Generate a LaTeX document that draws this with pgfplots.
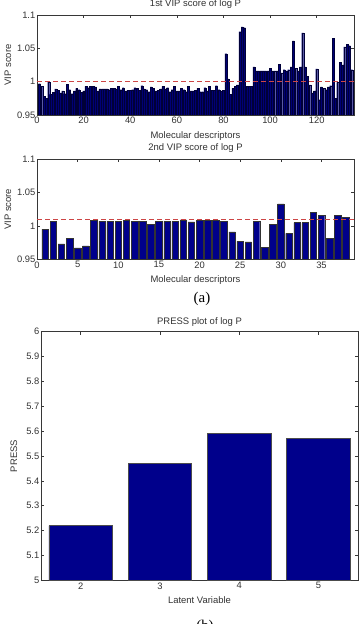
\documentclass[border=0pt]{standalone}
\usepackage{fontspec}
\setmainfont{Liberation Sans}
\newfontfamily\capfont{Liberation Serif}
\usepackage{pgfplots}
\usepackage{pgfplotstable}
\pgfplotsset{compat=1.18}

\definecolor{barblue}{RGB}{0,0,139}
\definecolor{refred}{RGB}{205,70,70}
\definecolor{axisgray}{RGB}{55,55,55}

% VIP scores of the first component (135 descriptors)
\pgfplotstableread{
idx vip
1 0.997
2 0.993
3 0.978
4 0.975
5 1.000
6 0.981
7 0.984
8 0.989
9 0.987
10 0.983
11 0.986
12 0.982
13 0.996
14 0.988
15 0.982
16 0.986
17 0.990
18 0.988
19 0.984
20 0.986
21 0.993
22 0.991
23 0.993
24 0.993
25 0.992
26 0.986
27 0.989
28 0.989
29 0.989
30 0.989
31 0.988
32 0.990
33 0.990
34 0.989
35 0.993
36 0.988
37 0.991
38 0.986
39 0.987
40 0.987
41 0.988
42 0.991
43 0.990
44 0.987
45 0.994
46 0.989
47 0.988
48 0.985
49 0.992
50 0.990
51 0.986
52 0.987
53 0.989
54 0.993
55 0.989
56 0.991
57 0.985
58 0.988
59 0.993
60 0.986
61 0.986
62 0.990
63 0.988
64 0.985
65 0.993
66 0.986
67 0.986
68 0.987
69 0.990
70 0.985
71 0.985
72 0.991
73 0.986
74 0.993
75 0.987
76 0.987
77 0.994
78 0.988
79 0.986
80 0.987
81 1.042
82 1.004
83 0.981
84 0.990
85 0.993
86 0.995
87 1.075
88 1.082
89 1.081
90 0.993
91 0.993
92 0.993
93 1.022
94 1.016
95 1.016
96 1.016
97 1.016
98 1.016
99 1.016
100 1.020
101 1.016
102 1.016
103 1.016
104 1.026
105 1.013
106 1.018
107 1.016
108 1.018
109 1.022
110 1.061
111 1.020
112 1.016
113 1.022
114 1.073
115 1.022
116 1.008
117 0.995
118 0.983
119 0.986
120 1.019
121 0.973
122 0.992
123 0.990
124 0.988
125 0.992
126 0.994
127 1.065
128 0.975
129 0.999
130 1.029
131 1.025
132 1.052
133 1.056
134 1.054
135 1.018
}\vipfirst

% VIP scores of the second component (38 descriptors)
\pgfplotstableread{
idx vip
1 0.995
2 1.007
3 0.973
4 0.981
5 0.967
6 0.970
7 1.008
8 1.007
9 1.007
10 1.007
11 1.008
12 1.007
13 1.007
14 1.002
15 1.007
16 1.007
17 1.007
18 1.009
19 1.006
20 1.008
21 1.008
22 1.008
23 1.007
24 0.991
25 0.977
26 0.976
27 1.007
28 0.968
29 1.002
30 1.033
31 0.989
32 1.005
33 1.005
34 1.020
35 1.016
36 0.981
37 1.016
38 1.013
}\vipsecond

% PRESS against number of latent variables
\pgfplotstableread{
lv press
2 5.22
3 5.47
4 5.59
5 5.57
}\pressdata

\pgfplotsset{
  matlabaxis/.style={
    scale only axis,
    width=317bp,
    tick align=inside,
    tick pos=both,
    major tick length=3bp,
    axis line style={axisgray, line width=0.5bp},
    every tick/.style={axisgray, line width=0.5bp},
    /pgf/number format/assume math mode=true,
    tick label style={font=\fontsize{9.4}{10}\selectfont, text=black!80},
    yticklabel style={inner sep=1.5bp},
    xticklabel style={inner sep=2bp},
    label style={font=\fontsize{9.5}{10}\selectfont, text=black!80},
    every axis title/.style={font=\fontsize{9.5}{10}\selectfont, text=black!80, anchor=base},
    xlabel style={anchor=base},
    ylabel style={anchor=center},
  },
  vipaxis/.style={
    matlabaxis,
    height=100bp,
    ymin=0.95, ymax=1.1,
    ytick={0.95,1,1.05,1.1},
    yticklabels={0.95,1,1.05,1.1},
    xlabel={Molecular descriptors},
    ylabel={VIP score},
    xlabel style={at={(axis description cs:0.5,-0.235)}},
    ylabel style={at={(axis description cs:-0.0915,0.5)}},
  },
  vipbar/.style={ybar, bar width=0.85, fill=barblue!85!black, draw=black!60!barblue, line width=0.25bp},
  cutline/.style={refred, line width=1bp, dash pattern=on 5bp off 3bp},
}

\begin{document}
\begin{tikzpicture}
\useasboundingbox (0bp,0bp) rectangle (359bp,624bp);

% first component
\begin{axis}[vipaxis,
  at={(37bp,509bp)}, anchor=south west,
  xmin=0, xmax=136,
  xtick={0,20,...,120},
  title={1st VIP score of log P},
  title style={at={(axis description cs:0.5,1.08)}},
]
\addplot[vipbar] table[x=idx, y=vip] {\vipfirst};
\addplot[cutline] coordinates {(0,1) (136,1)};
\end{axis}

% second component
\begin{axis}[vipaxis,
  at={(37bp,364.7bp)}, anchor=south west,
  xmin=0, xmax=39,
  xtick={0,5,...,35},
  title={2nd VIP score of log P},
  title style={at={(axis description cs:0.5,1.083)}},
]
\addplot[vipbar, bar width=0.8, fill=barblue, draw=black!80, line width=0.4bp] table[x=idx, y=vip] {\vipsecond};
\addplot[cutline] coordinates {(0,1.01) (39,1.01)};
\end{axis}

\node[font=\capfont\fontsize{15}{16}\selectfont, anchor=base] at (202bp,321bp) {(a)};

% PRESS
\begin{axis}[matlabaxis,
  at={(41bp,43.7bp)}, anchor=south west,
  height=248.6bp,
  xmin=1.5, xmax=5.5,
  xtick={2,3,4,5},
  ymin=5, ymax=6,
  ytick={5,5.1,5.2,5.3,5.4,5.5,5.6,5.7,5.8,5.9,6},
  yticklabels={5,5.1,5.2,5.3,5.4,5.5,5.6,5.7,5.8,5.9,6},
  title={PRESS plot of log P},
  title style={at={(axis description cs:0.5,1.027)}},
  xlabel={Latent Variable},
  xlabel style={at={(axis description cs:0.5,-0.095)}},
  ylabel={PRESS},
  ylabel style={at={(axis description cs:-0.0852,0.5)}},
]
\addplot[ybar, bar width=0.8, fill=barblue, draw=black!70, line width=0.5bp] table[x=lv, y=press] {\pressdata};
\end{axis}

\node[font=\capfont\fontsize{15}{16}\selectfont, anchor=base] at (205bp,-6bp) {(b)};
\end{tikzpicture}
\end{document}
